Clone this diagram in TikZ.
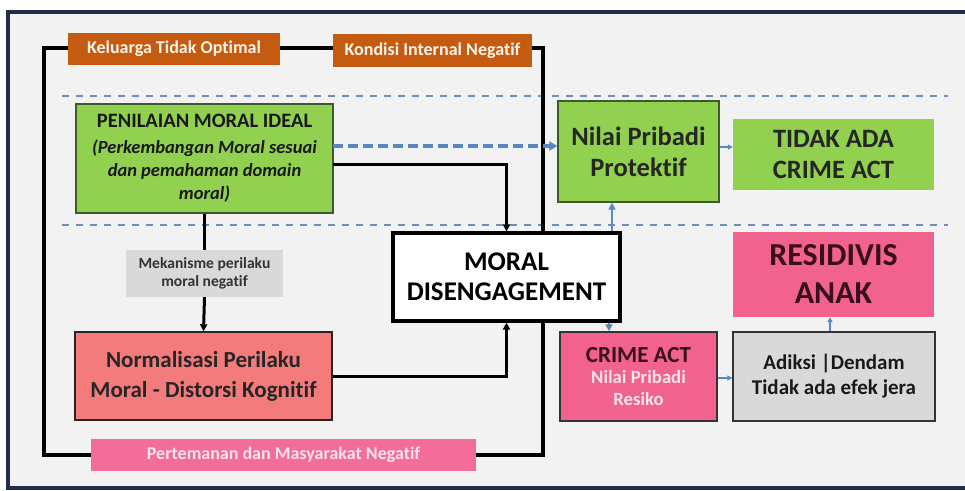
\documentclass[tikz,border=0pt]{standalone}
\usepackage{fontspec}
\setmainfont{Carlito}[Ligatures=NoCommon]
\usetikzlibrary{arrows.meta}
\definecolor{navy}{HTML}{1F2F45}
\definecolor{bgc}{HTML}{F2F2F2}
\definecolor{grn}{HTML}{92D050}
\definecolor{grnb}{HTML}{3E5A2A}
\definecolor{orng}{HTML}{C55A11}
\definecolor{pnk}{HTML}{F2628F}
\definecolor{pnkl}{HTML}{F36D9A}
\definecolor{salm}{HTML}{F47B7B}
\definecolor{gry}{HTML}{D9D9D9}
\definecolor{blu}{HTML}{5A86C2}
\definecolor{dashc}{HTML}{6E8DBA}
\definecolor{maroon}{HTML}{3A0E1C}
\definecolor{lpink}{HTML}{FCE4EC}
\newcommand\fs[2]{\fontsize{#1}{#2}\selectfont}
\begin{document}
\begin{tikzpicture}[x=1pt,y=-1pt,
  box/.style={inner sep=0pt,align=center,font=\bfseries},
  tag/.style={box,fill=orng,text=white!92!orange,font=\bfseries\fs{18}{20}},
  blk/.style={line width=3pt,draw=black,-{Triangle[length=7pt,width=7pt]}},
  barr/.style={line width=2.6pt,draw=blu,-{Triangle[length=7pt,width=7pt]}},
  sarr/.style={line width=1.2pt,draw=blu,-{Triangle[length=5pt,width=5pt]}},
  sep/.style={line width=1.8pt,draw=dashc,dash pattern=on 7pt off 7pt}]
\useasboundingbox (0,0) rectangle (965,490);
\fill[white] (0,0) rectangle (965,490);
\fill[bgc] (8,11) rectangle (975,489);
\draw[navy,line width=4pt] (8,12) rectangle (980,488);
% separators
\draw[sep] (62,96) -- (948,96);
\draw[sep] (62,225) -- (948,225);
% frame
\draw[line width=3.2pt] (44,48) rectangle (543,455);
% boxes
\node[tag,minimum width=212pt,minimum height=32pt] (kel) at (174,49) {Keluarga Tidak Optimal};
\node[tag,minimum width=199pt,minimum height=33pt] (kon) at (432.5,50.5) {Kondisi Internal Negatif};
\node[box,fill=grn,draw=grnb,line width=1.4pt,minimum width=257pt,minimum height=109pt,font=\bfseries\fs{20.5}{23},text=black!90] (pen) at (204.5,158.5)
  {PENILAIAN MORAL IDEAL\\[3pt]\itshape\fs{18.5}{22.5}(Perkembangan Moral sesuai\\\itshape\fs{18.5}{22.5}dan pemahaman domain\\\itshape\fs{18.5}{22.5}moral)};
\node[box,fill=gry,minimum width=157pt,minimum height=47pt,font=\bfseries\fs{15.6}{18.5},text=black!80] (mek) at (204.5,273.5) {Mekanisme perilaku\\moral negatif};
\node[box,fill=salm,draw=black!85,line width=1.4pt,minimum width=257pt,minimum height=88pt,font=\bfseries\fs{23}{30},text=black!85] (nor) at (203.5,376) {Normalisasi Perilaku\\Moral - Distorsi Kognitif};
\node[box,fill=white,draw=black,line width=3.2pt,minimum width=227pt,minimum height=88pt,font=\bfseries\fs{27}{30}] (md) at (506.5,277) {MORAL\\DISENGAGEMENT};
\node[box,fill=grn,draw=grnb,line width=1.4pt,minimum width=161pt,minimum height=101pt,font=\bfseries\fs{26.5}{31},text=black!85] (nil) at (638.5,151.5) {Nilai Pribadi\\Protektif};
\node[box,fill=grn,minimum width=201pt,minimum height=71pt,font=\bfseries\fs{26.5}{31},text=black!85] (tid) at (833.5,154.5) {TIDAK ADA\\CRIME ACT};
\node[box,fill=pnk,minimum width=201pt,minimum height=85pt,font=\bfseries\fs{32}{38},text=maroon] (res) at (833.5,274.5) {RESIDIVIS\\ANAK};
\node[box,fill=pnk,draw=black!80,line width=1.4pt,minimum width=157pt,minimum height=89pt,font=\bfseries\fs{18.7}{22}] (cri) at (638.5,376.5)
  {\color{maroon}\fs{23}{24}CRIME ACT\\[-1pt]\color{lpink}Nilai Pribadi\\\color{lpink}Resiko};
\node[box,fill=gry,draw=black!80,line width=1.4pt,minimum width=202pt,minimum height=89pt,font=\bfseries\fs{21}{25},text=black!90] (adi) at (834,376.5) {Adiksi |Dendam\\Tidak ada efek jera};
\node[box,fill=pnkl,minimum width=385pt,minimum height=32pt,font=\bfseries\fs{18}{20},text=lpink] (per) at (283.5,455) {Pertemanan dan Masyarakat Negatif};
% connectors
\coordinate (p1) at (333,146);
\coordinate (p2) at (333,164);
\draw[line width=3.4pt,draw=blu,dash pattern=on 10pt off 5pt,-{Triangle[length=8pt,width=9pt]}] (p1) -- (nil.west |- p1);
\draw[blk] (p2) -| (md.north);
\draw[line width=3pt] (pen.south) -- (mek.north);
\draw[blk] (mek.south) -- (nor.north);
\draw[blk] (nor.east) -| (md.south);
\coordinate (u1) at (612,0);
\coordinate (d1) at (609,0);
\draw[barr] (md.north -| u1) -- (nil.south -| u1);
\draw[barr] (md.south -| d1) -- (cri.north -| d1);
\coordinate (h1) at (0,147);
\coordinate (h2) at (0,378);
\coordinate (v1) at (830,0);
\draw[sarr] (nil.east |- h1) -- (tid.west |- h1);
\draw[sarr] (cri.east |- h2) -- (adi.west |- h2);
\draw[sarr] (adi.north -| v1) -- (res.south -| v1);
\end{tikzpicture}
\end{document}
